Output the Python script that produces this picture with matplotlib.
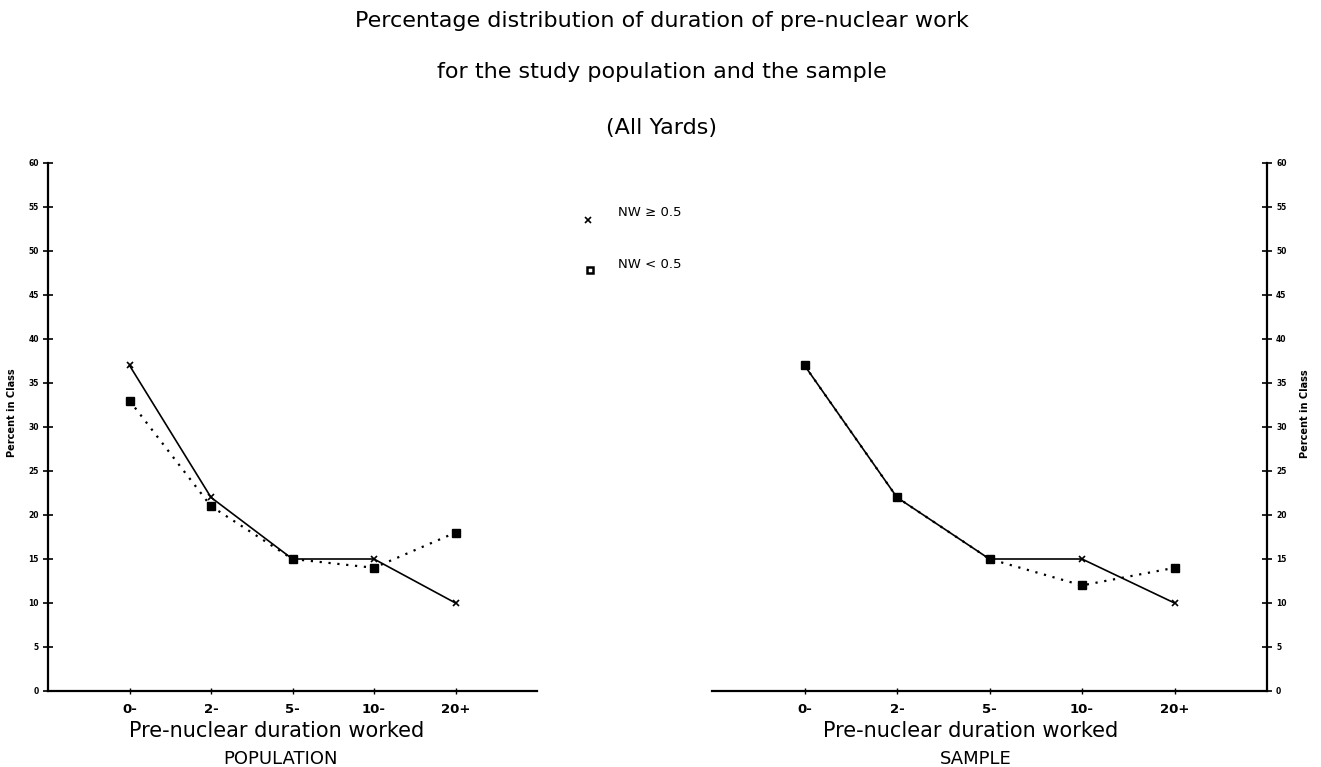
import numpy as np
import matplotlib
matplotlib.use('Agg')
import matplotlib.pyplot as plt


# data
classes = ['0-', '2-', '5-', '10-', '20+']
pop_high = [37, 22, 15, 15, 10]     # NW >= 0.5, population
pop_low = [33, 21, 15, 14, 18]      # NW < 0.5, population
samp_high = [37, 22, 15, 15, 10]    # NW >= 0.5, sample
samp_low = [37, 22, 15, 12, 14]     # NW < 0.5, sample
yticks = np.arange(0, 65, 5)


plt.rcParams['font.family'] = ['DejaVu Sans']

fig = plt.figure(figsize=(13.21, 7.67), dpi=100)


# function drawing one panel of the chart
def drawPanel(ax, high, low, side, name):
    x = np.arange(len(classes))
    ax.plot(x, high, '-', color='black', lw=1.2, marker='x', ms=5, mew=1.2)
    ax.plot(x, low, color='black', lw=1.6, ls=(0, (1, 3)), marker='s', ms=6,
            mfc='black', mec='black')

    ax.set_xlim(-1, 5)
    ax.set_ylim(0, 60)
    ax.set_xticks(x)
    ax.set_xticklabels(classes, fontsize=9.5, fontweight='bold')
    ax.set_yticks(yticks)
    ax.set_yticklabels([str(v) for v in yticks], fontsize=5.5, fontweight='bold')

    for s in ['top', 'left', 'right']:
        ax.spines[s].set_visible(False)
    ax.spines[side].set_visible(True)
    ax.spines[side].set_linewidth(1.6)
    ax.spines['bottom'].set_linewidth(1.6)

    ax.tick_params(axis='x', direction='inout', length=5, width=1, pad=6)
    ax.tick_params(axis='y', direction='inout', length=7, width=1.2, pad=3)
    if side == 'right':
        ax.yaxis.tick_right()
        ax.yaxis.set_label_position('right')
        ax.set_ylabel('Percent in Class', fontsize=7, fontweight='bold',
                      rotation=90)
        ax.yaxis.set_label_coords(1.06, 0.525)
    else:
        ax.set_ylabel('Percent in Class', fontsize=7, fontweight='bold')
        ax.yaxis.set_label_coords(-0.063, 0.528)

    trans = ax.get_xaxis_transform()
    ax.text(1.8, -0.075, 'Pre-nuclear duration worked', transform=trans,
            ha='center', va='center', fontsize=15)
    ax.text(1.85, -0.128, name, transform=trans, ha='center', va='center',
            fontsize=13)


axL = fig.add_axes([48 / 1321, 76 / 767, 489 / 1321, 528 / 767])
drawPanel(axL, pop_high, pop_low, 'left', 'POPULATION')

axR = fig.add_axes([712 / 1321, 76 / 767, 555 / 1321, 528 / 767])
drawPanel(axR, samp_high, samp_low, 'right', 'SAMPLE')

# titles
fig.text(0.501, 1 - 21 / 767, 'Percentage distribution of duration of pre-nuclear work',
         ha='center', va='center', fontsize=16)
fig.text(0.501, 1 - 72 / 767, 'for the study population and the sample',
         ha='center', va='center', fontsize=16)
fig.text(0.501, 1 - 128 / 767, '(All Yards)', ha='center', va='center', fontsize=16)

# key in the middle of the figure
fig.lines.append(plt.Line2D([588 / 1321], [1 - 220 / 767], marker='x', ms=5,
                            color='black', mew=1.2, transform=fig.transFigure))
fig.lines.append(plt.Line2D([590 / 1321], [1 - 270 / 767], marker='s', ms=5,
                            mfc='white', mec='black', mew=1.8,
                            transform=fig.transFigure))
fig.text(618 / 1321, 1 - 213 / 767, 'NW \u2265 0.5', ha='left', va='center',
         fontsize=9.5)
fig.text(618 / 1321, 1 - 265 / 767, 'NW < 0.5', ha='left', va='center',
         fontsize=9.5)

fig.savefig('out.png', dpi=100)
